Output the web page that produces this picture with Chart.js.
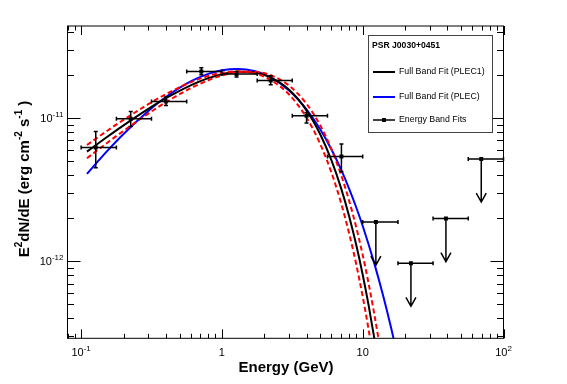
<!DOCTYPE html>
<html>
<head>
<meta charset="utf-8">
<script src="https://cdn.jsdelivr.net/npm/chart.js@4.4.1/dist/chart.umd.min.js"></script>
<style>
  html, body { margin: 0; padding: 0; background: #fff; }
  #wrap { width: 567px; height: 384px; position: relative; }
</style>
</head>
<body>
<div id="wrap"><canvas id="sed"></canvas></div>
<script>
'use strict';
// ===================== data =====================
// energy band fits: energy (GeV) and E^2 dN/dE (erg cm^-2 s^-1)
const bandE      = [0.127, 0.225, 0.401, 0.714, 1.27, 2.22, 3.99, 7.06, 12.4, 22.0, 39.0, 69.5];
const bandELo    = [0.1, 0.178, 0.316, 0.562, 1.0, 1.78, 3.16, 5.62, 10.0, 17.8, 31.6, 56.2];
const bandEHi    = [0.178, 0.316, 0.562, 1.0, 1.78, 3.16, 5.62, 10.0, 17.8, 31.6, 56.2, 100];
const bandFlux   = [6.23e-12, 9.89e-12, 1.306e-11, 2.118e-11, 2.031e-11, 1.832e-11, 1.038e-11, 5.39e-12, 1.88e-12, 9.7e-13, 1.99e-12, 5.19e-12];
const bandFluxLo = [4.51e-12, 8.74e-12, 1.225e-11, 2.008e-11, 1.935e-11, 1.710e-11, 9.23e-12, 4.23e-12, null, null, null, null];
const bandFluxHi = [8.06e-12, 1.112e-11, 1.403e-11, 2.248e-11, 2.118e-11, 1.976e-11, 1.094e-11, 6.61e-12, null, null, null, null];
const bandIsUL   = [false, false, false, false, false, false, false, false, true, true, true, true];

// full band fits
const fitE      = [0.11, 0.15, 0.2, 0.3, 0.4, 0.6, 0.8, 1, 1.3, 1.7, 2.2, 3, 4, 5, 6, 7, 8, 9, 10, 11, 12, 13, 14];
const plec1     = [5.84e-12, 7.29e-12, 8.90e-12, 1.160e-11, 1.377e-11, 1.695e-11, 1.903e-11, 2.028e-11, 2.110e-11, 2.084e-11, 1.931e-11, 1.576e-11, 1.129e-11, 7.69e-12, 5.07e-12, 3.27e-12, 2.075e-12, 1.299e-12, 8.06e-13, 4.96e-13, 3.03e-13, 1.845e-13, 1.117e-13];
const plec1BandA = [6.49e-12, 8.04e-12, 9.73e-12, 1.251e-11, 1.470e-11, 1.780e-11, 1.970e-11, 2.075e-11, 2.122e-11, 2.054e-11, 1.858e-11, 1.463e-11, 1.005e-11, 6.57e-12, 4.16e-12, 2.58e-12, 1.574e-12, 9.49e-13, 5.67e-13, 3.36e-13, 1.977e-13, 1.158e-13, 6.75e-14];
const plec1BandB = [5.25e-12, 6.62e-12, 8.15e-12, 1.076e-11, 1.291e-11, 1.617e-11, 1.839e-11, 1.985e-11, 2.097e-11, 2.112e-11, 2.000e-11, 1.687e-11, 1.256e-11, 8.87e-12, 6.06e-12, 4.05e-12, 2.66e-12, 1.723e-12, 1.105e-12, 7.04e-13, 4.45e-13, 2.80e-13, 1.748e-13];
const plecE     = [0.11, 0.15, 0.2, 0.3, 0.4, 0.6, 0.8, 1, 1.3, 1.7, 2.2, 3, 4, 5, 6, 7, 8, 9, 10, 12, 14, 16, 18, 20];
const plec      = [4.08e-12, 5.76e-12, 7.75e-12, 1.122e-11, 1.405e-11, 1.804e-11, 2.037e-11, 2.160e-11, 2.208e-11, 2.131e-11, 1.930e-11, 1.558e-11, 1.146e-11, 8.33e-12, 6.04e-12, 4.40e-12, 3.22e-12, 2.376e-12, 1.764e-12, 9.91e-13, 5.70e-13, 3.35e-13, 2.01e-13, 1.229e-13];

// axes
const xTickValues = [0.1, 1, 10, 100];
const xTickBase   = ['10', '1', '10', '10'];
const xTickExp    = ['-1', '', '', '2'];
const yTickValues = [1e-12, 1e-11];
const yTickBase   = ['10', '10'];
const yTickExp    = ['-12', '-11'];

const legendTitle  = 'PSR J0030+0451';
const legendLabels = ['Full Band Fit (PLEC1)', 'Full Band Fit (PLEC)', 'Energy Band Fits'];

const FONT = '"Liberation Sans", Arial, Helvetica, sans-serif';

function zip(xs, ys) {
    return xs.map((x, i) => ({ x, y: ys[i] }));
}

// "10" with a raised exponent
function drawPower(ctx, base, exp, x, y, align) {
    ctx.font = `11px ${FONT}`;
    const wb = ctx.measureText(base).width;
    ctx.font = `8px ${FONT}`;
    const we = exp ? ctx.measureText(exp).width : 0;
    const w = wb + we;
    const x0 = align === 'right' ? x - w : x - w / 2;
    ctx.textAlign = 'left';
    ctx.textBaseline = 'alphabetic';
    ctx.font = `11px ${FONT}`;
    ctx.fillText(base, x0, y);
    if (exp) {
        ctx.font = `8px ${FONT}`;
        ctx.fillText(exp, x0 + wb, y - 5);
    }
}

// ===================== frame, ticks, titles =====================
const framePlugin = {
    id: 'rootFrame',
    afterDraw(chart) {
        const { ctx, chartArea: a, scales: { x, y } } = chart;
        ctx.save();
        ctx.strokeStyle = '#000';
        ctx.lineWidth = 1;
        ctx.strokeRect(a.left, a.top, a.right - a.left, a.bottom - a.top);

        ctx.beginPath();
        for (let d = -2; d <= 2; d++) {
            for (let m = 1; m <= 9; m++) {
                const v = m * Math.pow(10, d);
                if (v < x.min * 0.999 || v > x.max * 1.001) continue;
                const px = Math.round(x.getPixelForValue(v)) + 0.5;
                const len = m === 1 ? 9 : 4.5;
                ctx.moveTo(px, a.bottom); ctx.lineTo(px, a.bottom - len);
                ctx.moveTo(px, a.top);    ctx.lineTo(px, a.top + len);
            }
        }
        for (let d = -14; d <= -9; d++) {
            for (let m = 1; m <= 9; m++) {
                const v = m * Math.pow(10, d);
                if (v < y.min || v > y.max) continue;
                const py = Math.round(y.getPixelForValue(v)) + 0.5;
                const len = m === 1 ? 13 : 6.5;
                ctx.moveTo(a.left, py);  ctx.lineTo(a.left + len, py);
                ctx.moveTo(a.right, py); ctx.lineTo(a.right - len, py);
            }
        }
        ctx.stroke();

        ctx.fillStyle = '#000';
        xTickValues.forEach((v, i) => {
            drawPower(ctx, xTickBase[i], xTickExp[i], x.getPixelForValue(v), a.bottom + 18, 'center');
        });
        yTickValues.forEach((v, i) => {
            drawPower(ctx, yTickBase[i], yTickExp[i], a.left - 4, y.getPixelForValue(v) + 4, 'right');
        });

        // x title
        ctx.font = `bold 15px ${FONT}`;
        ctx.textAlign = 'center';
        ctx.textBaseline = 'alphabetic';
        ctx.fillText('Energy (GeV)', 286, 372);

        // y title with superscripts
        const parts = [['E', 0], ['2', 1], ['dN/dE (erg cm', 0], ['-2', 1], [' s', 0], ['-1', 1], [' )', 0]];
        const fontOf = sup => sup ? `bold 10px ${FONT}` : `bold 15px ${FONT}`;
        let total = 0;
        parts.forEach(p => { ctx.font = fontOf(p[1]); total += ctx.measureText(p[0]).width; });
        ctx.translate(29, 179);
        ctx.rotate(-Math.PI / 2);
        ctx.textAlign = 'left';
        let cx = -total / 2;
        parts.forEach(p => {
            ctx.font = fontOf(p[1]);
            ctx.fillText(p[0], cx, p[1] ? -7 : 0);
            cx += ctx.measureText(p[0]).width;
        });
        ctx.restore();
    }
};

// ===================== error bars / upper limits =====================
const barsPlugin = {
    id: 'bandBars',
    afterDatasetsDraw(chart) {
        const { ctx, scales: { x, y } } = chart;
        ctx.save();
        ctx.strokeStyle = '#000';
        ctx.lineWidth = 1.5;
        ctx.beginPath();
        bandE.forEach((e, i) => {
            const px = x.getPixelForValue(e);
            const py = y.getPixelForValue(bandFlux[i]);
            const x0 = x.getPixelForValue(bandELo[i]);
            const x1 = x.getPixelForValue(bandEHi[i]);
            ctx.moveTo(x0, py); ctx.lineTo(x1, py);
            ctx.moveTo(x0, py - 2); ctx.lineTo(x0, py + 2);
            ctx.moveTo(x1, py - 2); ctx.lineTo(x1, py + 2);
            if (bandIsUL[i]) {
                const tip = y.getPixelForValue(bandFlux[i] * 0.5);
                ctx.moveTo(px, py); ctx.lineTo(px, tip);
                ctx.moveTo(px - 5, tip - 9); ctx.lineTo(px, tip); ctx.lineTo(px + 5, tip - 9);
            } else {
                const y0 = y.getPixelForValue(bandFluxHi[i]);
                const y1 = y.getPixelForValue(bandFluxLo[i]);
                ctx.moveTo(px, y0); ctx.lineTo(px, y1);
                ctx.moveTo(px - 2, y0); ctx.lineTo(px + 2, y0);
                ctx.moveTo(px - 2, y1); ctx.lineTo(px + 2, y1);
            }
        });
        ctx.stroke();
        ctx.restore();
    }
};

// ===================== legend box =====================
const legendPlugin = {
    id: 'fitLegend',
    afterDraw(chart) {
        const ctx = chart.ctx;
        ctx.save();
        ctx.fillStyle = '#fff';
        ctx.fillRect(368.5, 35.5, 124, 97);
        ctx.strokeStyle = '#444';
        ctx.lineWidth = 1;
        ctx.strokeRect(368.5, 35.5, 124, 97);

        ctx.fillStyle = '#000';
        ctx.textAlign = 'left';
        ctx.textBaseline = 'middle';
        ctx.font = `bold 8.6px ${FONT}`;
        ctx.fillText(legendTitle, 372, 46);

        const rows = [72, 97, 120];
        const colors = ['#000', '#0000ff', '#000'];
        ctx.font = `8.8px ${FONT}`;
        rows.forEach((ry, i) => {
            ctx.strokeStyle = colors[i];
            ctx.lineWidth = i === 2 ? 1.5 : 2;
            ctx.beginPath();
            ctx.moveTo(373, ry); ctx.lineTo(395, ry);
            ctx.stroke();
            if (i === 2) {
                ctx.fillStyle = '#000';
                ctx.fillRect(382, ry - 2, 4, 4);
            }
            ctx.fillStyle = '#000';
            ctx.fillText(legendLabels[i], 399, ry);
        });
        ctx.restore();
    }
};

// ===================== chart =====================
const curveStyle = { showLine: true, pointRadius: 0, borderWidth: 2, cubicInterpolationMode: 'monotone', fill: false };

new Chart(document.getElementById('sed'), {
    type: 'scatter',
    data: {
        datasets: [
            { ...curveStyle, label: 'PLEC1 band A', data: zip(fitE, plec1BandA), borderColor: '#ff0000', borderDash: [5, 3] },
            { ...curveStyle, label: 'PLEC1 band B', data: zip(fitE, plec1BandB), borderColor: '#ff0000', borderDash: [5, 3] },
            { ...curveStyle, label: legendLabels[0], data: zip(fitE, plec1), borderColor: '#000000' },
            { ...curveStyle, label: legendLabels[1], data: zip(plecE, plec), borderColor: '#0000ff' },
            {
                label: legendLabels[2],
                data: zip(bandE, bandFlux),
                showLine: false,
                pointStyle: 'rect',
                pointRadius: 2.8,
                backgroundColor: '#000',
                borderColor: '#000',
                borderWidth: 0,
            },
        ]
    },
    options: {
        animation: false,
        responsive: true,
        maintainAspectRatio: false,
        devicePixelRatio: 1,
        layout: { padding: { left: 0, right: 63.5, top: 26, bottom: 0 } },
        plugins: { legend: { display: false }, tooltip: { enabled: false } },
        scales: {
            x: {
                type: 'logarithmic', min: 0.08, max: 100,
                ticks: { display: false }, grid: { display: false }, border: { display: false },
                afterFit(s) { s.height = 45.7; }
            },
            y: {
                type: 'logarithmic', min: 2.9e-13, max: 4.4e-11,
                ticks: { display: false }, grid: { display: false }, border: { display: false },
                afterFit(s) { s.width = 67.5; }
            }
        }
    },
    plugins: [barsPlugin, framePlugin, legendPlugin]
});
</script>
</body>
</html>
